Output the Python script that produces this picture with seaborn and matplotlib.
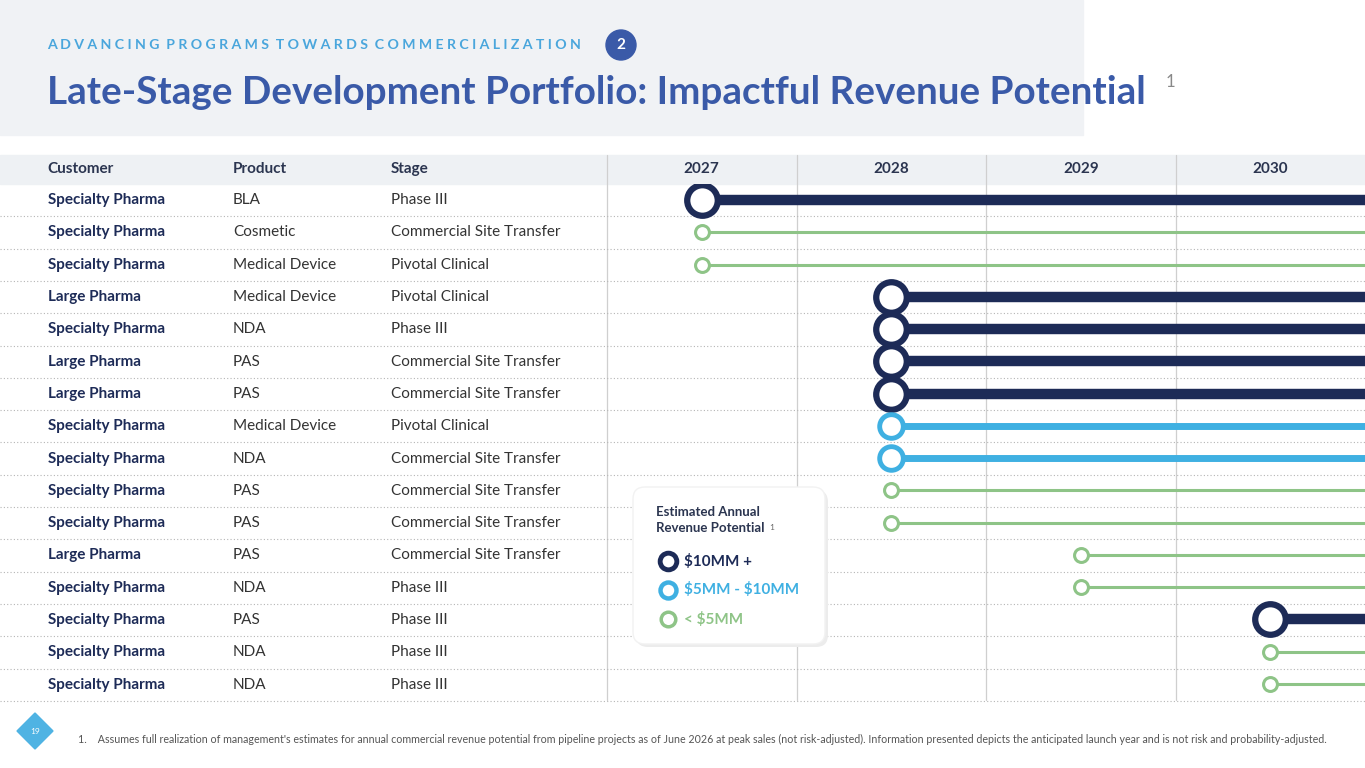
import matplotlib
matplotlib.use("Agg")
import matplotlib.pyplot as plt
from matplotlib.patches import Rectangle, FancyBboxPatch, Circle, Polygon
import seaborn as sns
import pandas as pd

sns.set_theme(style="white")
plt.rcParams['font.family'] = ['Lato', 'DejaVu Sans']
plt.rcParams['text.parse_math'] = False

customers = ["Specialty Pharma", "Specialty Pharma", "Specialty Pharma", "Large Pharma", "Specialty Pharma",
             "Large Pharma", "Large Pharma", "Specialty Pharma", "Specialty Pharma", "Specialty Pharma",
             "Specialty Pharma", "Large Pharma", "Specialty Pharma", "Specialty Pharma", "Specialty Pharma",
             "Specialty Pharma"]
products = ["BLA", "Cosmetic", "Medical Device", "Medical Device", "NDA", "PAS", "PAS", "Medical Device",
            "NDA", "PAS", "PAS", "PAS", "NDA", "PAS", "NDA", "NDA"]
stages = ["Phase III", "Commercial Site Transfer", "Pivotal Clinical", "Pivotal Clinical", "Phase III",
          "Commercial Site Transfer", "Commercial Site Transfer", "Pivotal Clinical", "Commercial Site Transfer",
          "Commercial Site Transfer", "Commercial Site Transfer", "Commercial Site Transfer", "Phase III",
          "Phase III", "Phase III", "Phase III"]
launch_year = [2027, 2027, 2027, 2028, 2028, 2028, 2028, 2028, 2028, 2028, 2028, 2029, 2029, 2030, 2030, 2030]
tier = ["$10MM +", "< $5MM", "< $5MM", "$10MM +", "$10MM +", "$10MM +", "$10MM +", "$5MM - $10MM",
        "$5MM - $10MM", "< $5MM", "< $5MM", "< $5MM", "< $5MM", "$10MM +", "< $5MM", "< $5MM"]
years = [2027, 2028, 2029, 2030]

NAVY, BLUE, GREEN = "#1d2b57", "#3fb0e2", "#8ec487"
TITLE = "#3a5aa8"
style = {"$10MM +": (NAVY, 7.5, 22, 4.5),
         "$5MM - $10MM": (BLUE, 5, 17, 3.5),
         "< $5MM": (GREEN, 2.2, 10, 2.2)}
legend_ms = {"$10MM +": (12, 3.5), "$5MM - $10MM": (11.5, 3.2), "< $5MM": (10.5, 2.5)}

W, H = 1365, 768
fig = plt.figure(figsize=(13.65, 7.68), dpi=100)
bg = fig.add_axes([0, 0, 1, 1])
bg.set_xlim(0, W); bg.set_ylim(H, 0); bg.axis("off")

bg.add_patch(Rectangle((0, 0), 1083, 135, color="#f0f2f5", zorder=0))
bg.add_patch(Rectangle((0, 155), W, 29, color="#eef1f4", zorder=0))
sub = "  ".join(" ".join(w) for w in "ADVANCING PROGRAMS TOWARDS COMMERCIALIZATION".split(" "))
bg.text(47, 45, sub, fontsize=10.2, fontweight="bold", color="#4aa6dc", va="center")
bg.add_patch(Circle((621, 45), 15, color=TITLE))
bg.text(621, 45, "2", color="white", fontsize=11, fontweight="bold", ha="center", va="center")
bg.text(47, 92, "Late-Stage Development Portfolio: Impactful Revenue Potential", fontsize=27.8,
        fontweight="bold", color=TITLE, va="center")
bg.text(1166, 82, "1", fontsize=12, color="#888888", va="center")

for x, t in [(47, "Customer"), (233, "Product"), (391, "Stage")]:
    bg.text(x, 169, t, fontsize=11, fontweight="bold", color="#2b3550", va="center")

row_top, row_h = 184, 32.3
for i in range(len(customers)):
    y = row_top + row_h * (i + 0.5)
    bg.text(48, y, customers[i], fontsize=11, fontweight="bold", color=NAVY, va="center")
    bg.text(233, y, products[i], fontsize=11, color="#333333", va="center")
    bg.text(391, y, stages[i], fontsize=11, color="#333333", va="center")
    bg.plot([0, W], [row_top + row_h * (i + 1)] * 2, ls=(0, (1, 2)), lw=0.8, color="#b5b5b5")

ax = fig.add_axes([607 / W, 1 - 700 / H, (W - 607) / W, (700 - 184) / H])
ax.set_xlim(2026.5, 2030.5)
ax.set_ylim(len(customers) - 0.5, -0.5)
ax.axis("off")
ax.patch.set_alpha(0)
for b in [2026.5, 2027.5, 2028.5, 2029.5]:
    bg.plot([607 + (b - 2026.5) * (W - 607) / 4] * 2, [155, 700], color="#cfcfcf", lw=0.9, zorder=1)
for yv in years:
    bg.text(607 + (yv - 2026.5) * (W - 607) / 4, 169, str(yv), fontsize=11, fontweight="bold",
            color="#2b3550", ha="center", va="center")

df = pd.DataFrame({"row": range(len(customers)), "year": launch_year, "tier": tier})
for _, r in df.iterrows():
    c, lw, ms, mew = style[r.tier]
    ax.hlines(r.row, r.year, 2030.5, color=c, lw=lw, zorder=2)
for t, (c, lw, ms, mew) in style.items():
    s = df[df.tier == t]
    sns.scatterplot(data=s, x="year", y="row", ax=ax, s=ms ** 2, marker="o", facecolor="white",
                    edgecolor=c, linewidth=mew, zorder=3, legend=False)

bg.add_patch(FancyBboxPatch((636, 490), 192, 157, boxstyle="round,pad=0,rounding_size=12",
                            fc="#ececec", ec="none", zorder=4))
bg.add_patch(FancyBboxPatch((633, 487), 192, 157, boxstyle="round,pad=0,rounding_size=12",
                            fc="white", ec="#f2f2f2", zorder=5))
bg.text(656, 520, "Estimated Annual\nRevenue Potential", fontsize=9.5, fontweight="bold",
        color="#2b3550", va="center", linespacing=1.3, zorder=6)
bg.text(769, 530, "1", fontsize=6, color="#666666", zorder=6)
for yy, (t, (c, lw, ms, mew)) in zip([561, 590, 619], style.items()):
    lm, lmew = legend_ms[t]
    bg.scatter([668], [yy], s=lm ** 2, facecolor="white", edgecolor=c, linewidth=lmew, zorder=6)
    bg.text(684, yy, t, fontsize=11, fontweight="bold", color=c, va="center", zorder=6)

bg.add_patch(Polygon([(35, 713), (53, 731), (35, 749), (17, 731)], closed=True, color="#4fb3e3"))
bg.text(35, 731, "19", fontsize=6, color="white", ha="center", va="center")
bg.text(78, 739, "1.    Assumes full realization of management's estimates for annual commercial revenue potential from pipeline "
        "projects as of June 2026 at peak sales (not risk-adjusted). Information presented depicts the anticipated "
        "launch year and is not risk and probability-adjusted.", fontsize=7.7, color="#555555", va="center")

fig.savefig("out.png", dpi=100)
